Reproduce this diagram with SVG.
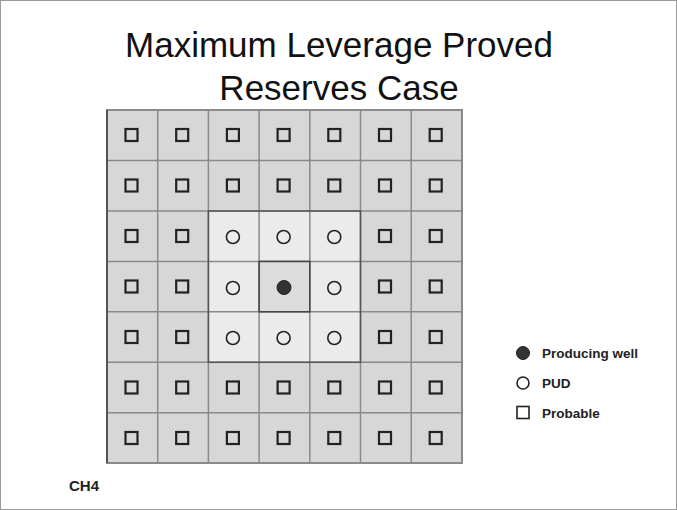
<svg xmlns="http://www.w3.org/2000/svg" width="677" height="510" viewBox="0 0 677 510">
<style>
.t{font-family:"Liberation Sans",Arial,sans-serif;fill:#111}
.lg{font-family:"Liberation Sans",Arial,sans-serif;font-weight:bold;font-size:13.5px;fill:#222}
.prob{fill:none;stroke:#222;stroke-width:2.2}
.pc{fill:none;stroke:#222;stroke-width:1.6}
.pw{fill:#333;stroke:#222;stroke-width:1}
</style>
<rect x="0.5" y="0.5" width="676" height="509" fill="#fff" stroke="#9a9a9a"/>
<text class="t" x="339" y="57" font-size="35" text-anchor="middle">Maximum Leverage Proved</text>
<text class="t" x="339" y="100" font-size="35" text-anchor="middle">Reserves Case</text>
<g id="grid">
<rect x="107" y="110" width="355" height="353" fill="#d7d7d7" stroke="#8a8a8a" stroke-width="2"/>
<rect x="208.4" y="211" width="152.1" height="151.3" fill="#ebebeb"/>
<rect x="259.1" y="261.4" width="50.7" height="50.4" fill="#dcdcdc"/>
<g stroke="#8a8a8a" stroke-width="1.5">
<line x1="157.7" y1="110" x2="157.7" y2="463"/>
<line x1="208.4" y1="110" x2="208.4" y2="463"/>
<line x1="259.1" y1="110" x2="259.1" y2="463"/>
<line x1="309.8" y1="110" x2="309.8" y2="463"/>
<line x1="360.5" y1="110" x2="360.5" y2="463"/>
<line x1="411.2" y1="110" x2="411.2" y2="463"/>
<line x1="107" y1="160.4" x2="462" y2="160.4"/>
<line x1="107" y1="211" x2="462" y2="211"/>
<line x1="107" y1="261.4" x2="462" y2="261.4"/>
<line x1="107" y1="311.8" x2="462" y2="311.8"/>
<line x1="107" y1="362.3" x2="462" y2="362.3"/>
<line x1="107" y1="412.7" x2="462" y2="412.7"/>
</g>
<rect x="208.4" y="211" width="152.1" height="151.3" fill="none" stroke="#555" stroke-width="1.5"/>
<rect x="259.1" y="261.4" width="50.7" height="50.4" fill="none" stroke="#444" stroke-width="1.5"/>
<line x1="107" y1="110" x2="107" y2="463" stroke="#555" stroke-width="2"/>
</g>
<g id="probable">
<g class="prob">
<rect x="125.5" y="129" width="12" height="12"/><rect x="176.2" y="129" width="12" height="12"/><rect x="226.9" y="129" width="12" height="12"/><rect x="277.6" y="129" width="12" height="12"/><rect x="328.3" y="129" width="12" height="12"/><rect x="379" y="129" width="12" height="12"/><rect x="429.7" y="129" width="12" height="12"/>
<rect x="125.5" y="179.5" width="12" height="12"/><rect x="176.2" y="179.5" width="12" height="12"/><rect x="226.9" y="179.5" width="12" height="12"/><rect x="277.6" y="179.5" width="12" height="12"/><rect x="328.3" y="179.5" width="12" height="12"/><rect x="379" y="179.5" width="12" height="12"/><rect x="429.7" y="179.5" width="12" height="12"/>
<rect x="125.5" y="230" width="12" height="12"/><rect x="176.2" y="230" width="12" height="12"/><rect x="379" y="230" width="12" height="12"/><rect x="429.7" y="230" width="12" height="12"/>
<rect x="125.5" y="280.5" width="12" height="12"/><rect x="176.2" y="280.5" width="12" height="12"/><rect x="379" y="280.5" width="12" height="12"/><rect x="429.7" y="280.5" width="12" height="12"/>
<rect x="125.5" y="331" width="12" height="12"/><rect x="176.2" y="331" width="12" height="12"/><rect x="379" y="331" width="12" height="12"/><rect x="429.7" y="331" width="12" height="12"/>
<rect x="125.5" y="381.5" width="12" height="12"/><rect x="176.2" y="381.5" width="12" height="12"/><rect x="226.9" y="381.5" width="12" height="12"/><rect x="277.6" y="381.5" width="12" height="12"/><rect x="328.3" y="381.5" width="12" height="12"/><rect x="379" y="381.5" width="12" height="12"/><rect x="429.7" y="381.5" width="12" height="12"/>
<rect x="125.5" y="432" width="12" height="12"/><rect x="176.2" y="432" width="12" height="12"/><rect x="226.9" y="432" width="12" height="12"/><rect x="277.6" y="432" width="12" height="12"/><rect x="328.3" y="432" width="12" height="12"/><rect x="379" y="432" width="12" height="12"/><rect x="429.7" y="432" width="12" height="12"/>
</g>
</g>
<g id="pud">
<g class="pc">
<circle cx="232.9" cy="237" r="6.5"/><circle cx="283.6" cy="237" r="6.5"/><circle cx="334.3" cy="237" r="6.5"/>
<circle cx="232.9" cy="288" r="6.5"/><circle cx="334.3" cy="288" r="6.5"/>
<circle cx="232.9" cy="338" r="6.5"/><circle cx="283.6" cy="338" r="6.5"/><circle cx="334.3" cy="338" r="6.5"/>
</g>
</g>
<g id="producing-well">
<circle class="pw" cx="284" cy="287.5" r="7"/>
</g>
<g id="legend">
<circle class="pw" cx="523" cy="353" r="6.5"/>
<text class="lg" x="542" y="357.5">Producing well</text>
<circle class="pc" cx="523" cy="383" r="6"/>
<text class="lg" x="542" y="387.5">PUD</text>
<rect x="517" y="406.5" width="12" height="12" fill="none" stroke="#222" stroke-width="1.6"/>
<text class="lg" x="542" y="417.5">Probable</text>
</g>
<text class="lg" x="69" y="491" style="font-size:15px">CH4</text>
</svg>
